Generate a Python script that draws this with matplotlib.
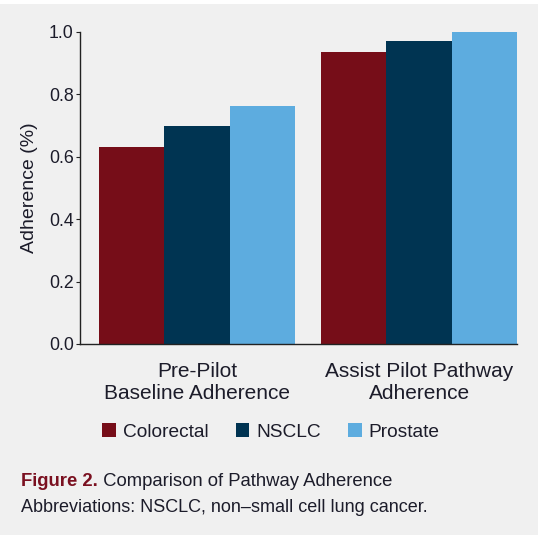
import matplotlib
matplotlib.use('Agg')
import matplotlib.pyplot as plt
from matplotlib.patches import Patch, Rectangle
import numpy as np

plt.rcParams['font.family'] = ['Liberation Sans', 'DejaVu Sans']

# data
groups = ['Pre-Pilot\nBaseline Adherence', 'Assist Pilot Pathway\nAdherence']
series = ['Colorectal', 'NSCLC', 'Prostate']
colorectal = [0.631, 0.936]
nsclc = [0.699, 0.971]
prostate = [0.763, 1.0]
yticks = [0.0, 0.2, 0.4, 0.6, 0.8, 1.0]

colors = ['#760d18', '#003452', '#5dacdf']
txt = '#1c1c2a'
bg = '#f0f0f0'

W, H = 538, 535
fig = plt.figure(figsize=(W / 100, H / 100), dpi=100, facecolor='white')
# grey panel under the white strip at the top
fig.patches.append(Rectangle((0, 0), 1, (H - 4) / H, transform=fig.transFigure,
                             facecolor=bg, edgecolor='none', zorder=-10))

ax = fig.add_axes([80 / W, (H - 344) / H, 437 / W, 312 / H])
ax.patch.set_alpha(0)

x = np.arange(len(groups))
w = 0.294
for i, (vals, c) in enumerate(zip([colorectal, nsclc, prostate], colors)):
    ax.bar(x + (i - 1) * w, vals, width=w, color=c, edgecolor='none', zorder=2)

ax.set_xlim(-0.527, 1.441)
ax.set_ylim(0, 1.0)
ax.set_yticks(yticks)
ax.set_yticklabels([f'{v:.1f}' for v in yticks])
ax.set_xticks(x)
ax.set_xticklabels(groups, fontsize=15, color=txt, linespacing=1.2)
ax.tick_params(axis='x', length=0, pad=13)
ax.tick_params(axis='y', length=3, width=0.8, labelsize=12.8, labelcolor=txt, color='#222222', pad=1.5)
for s in ['top', 'right']:
    ax.spines[s].set_visible(False)
for s in ['left', 'bottom']:
    ax.spines[s].set_color('#222222')
    ax.spines[s].set_linewidth(1.0)
ax.set_ylabel('Adherence (%)', fontsize=14, color=txt, labelpad=8)

handles = [Patch(facecolor=c, edgecolor='none') for c in colors]
fig.legend(handles, series, loc='center', bbox_to_anchor=(271 / W, 1 - 432 / H),
           ncol=3, frameon=False, fontsize=13.8, handlelength=0.7, handleheight=0.7,
           handletextpad=0.35, columnspacing=1.45, labelcolor=txt)

t1 = fig.text(21 / W, 1 - 486 / H, 'Figure 2.', fontsize=13.3, fontweight='bold',
              color='#7a1020', va='baseline')
ax.annotate(' Comparison of Pathway Adherence', xy=(1, 0), xycoords=t1,
            va='bottom', ha='left', fontsize=13.3, color=txt, annotation_clip=False)
fig.text(21 / W, 1 - 512 / H, 'Abbreviations: NSCLC, non\u2013small cell lung cancer.',
         fontsize=13, color=txt, va='baseline')

fig.savefig('out.png', dpi=100, facecolor=fig.get_facecolor())
